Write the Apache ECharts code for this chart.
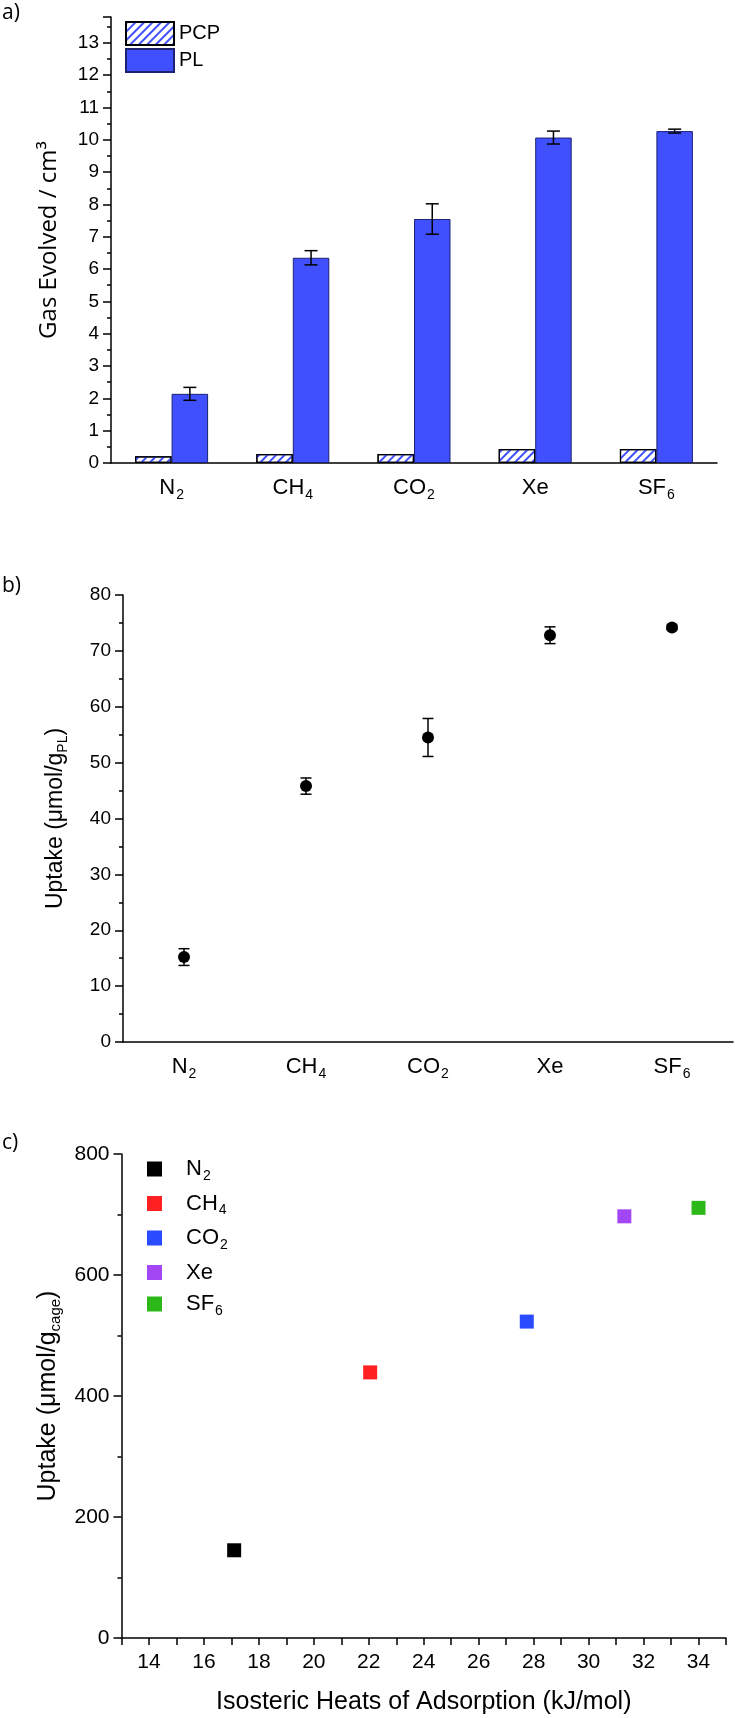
<!DOCTYPE html>
<html><head><meta charset="utf-8">
<script src="https://cdn.jsdelivr.net/npm/echarts@6/dist/echarts.min.js"></script>
<style>html,body{margin:0;padding:0;background:#fff}#c{width:735px;height:1718px}</style>
</head><body><div id="c"></div>
<script>
// ---------- data ----------
const gases = ['N2', 'CH4', 'CO2', 'Xe', 'SF6'];
const pcpVolume = [0.21, 0.28, 0.28, 0.43, 0.43];
const plVolume = [2.14, 6.35, 7.55, 10.07, 10.27];
const plVolumeErr = [0.20, 0.22, 0.47, 0.20, 0.06];
const uptakePL = [15.2, 45.8, 54.5, 72.8, 74.2];
const uptakePLErr = [1.5, 1.45, 3.4, 1.5, 0.4];
const heatOfAdsorption = [17.1, 22.05, 27.75, 31.3, 34.0];
const uptakeCage = [145, 439, 523, 697, 711];

// ---------- styles ----------
const SANS = "'Liberation Sans', Arial, sans-serif";
const HUMAN = "'Open Sans', 'Noto Sans', sans-serif";
const cageColors = ['#000000', '#ff2121', '#2a4bff', '#a347f5', '#2db81a'];
const BLUE = '#4050ff';
const axisLine = { show: true, lineStyle: { color: '#000', width: 1.5 } };
const tickStyle = { color: '#000', width: 1.5 };

function subRich(s) {
  return String(s).replace(/([A-Za-z]+)(\d*)/g, (m, a, d) => '{m|' + a + '}' + (d ? '{s|' + d + '}' : ''));
}
function richSet(size, subSize, pad) {
  return {
    m: { fontSize: size, lineHeight: size, fontFamily: SANS, color: '#000', verticalAlign: 'top' },
    s: { fontSize: subSize, lineHeight: subSize, fontFamily: SANS, color: '#000', verticalAlign: 'top', padding: [pad, 0, 0, 1] }
  };
}
function errRender(offsetPx, capHalf) {
  return function (params, api) {
    const x = api.value(0), lo = api.value(1), hi = api.value(2);
    const pLo = api.coord([x, lo]), pHi = api.coord([x, hi]);
    const cx = pLo[0] + offsetPx;
    const st = { stroke: '#000', lineWidth: 1.5 };
    return { type: 'group', children: [
      { type: 'line', shape: { x1: cx, y1: pLo[1], x2: cx, y2: pHi[1] }, style: st },
      { type: 'line', shape: { x1: cx - capHalf, y1: pLo[1], x2: cx + capHalf, y2: pLo[1] }, style: st },
      { type: 'line', shape: { x1: cx - capHalf, y1: pHi[1], x2: cx + capHalf, y2: pHi[1] }, style: st }
    ]};
  };
}
const BAR_W = 36.5;

const chart = echarts.init(document.getElementById('c'), null, { renderer: 'canvas' });
const option = {
  animation: false,
  backgroundColor: '#fff',
  grid: [
    { left: 111, right: 18, top: 17, height: 446 },
    { left: 123, right: 2, top: 595, height: 447 },
    { left: 121.5, right: 9, top: 1154, height: 484 }
  ],
  legend: [
    { data: ['PCP', 'PL'], orient: 'vertical', left: 125, top: 21, padding: 0, icon: 'rect',
      itemWidth: 48, itemHeight: 23, itemGap: 2,
      textStyle: { fontSize: 20, fontFamily: SANS, color: '#000' } },
    { data: gases, orient: 'vertical', left: 147, top: 1158, padding: 0,
      itemWidth: 15, itemHeight: 15, itemGap: 9.5,
      formatter: n => subRich(n),
      textStyle: { fontSize: 22, fontFamily: SANS, color: '#000', padding: [0, 0, 0, 19], rich: richSet(22, 14, 11) } }
  ],
  xAxis: [
    { gridIndex: 0, type: 'category', data: gases, axisLine,
      axisTick: { alignWithLabel: true, length: 9, lineStyle: tickStyle },
      axisLabel: { formatter: v => subRich(v), margin: 14, rich: richSet(22, 14, 11) } },
    { gridIndex: 1, type: 'category', data: gases, axisLine,
      axisTick: { alignWithLabel: true, length: 9, lineStyle: tickStyle },
      axisLabel: { formatter: v => subRich(v), margin: 14, rich: richSet(22, 14, 11) } },
    { gridIndex: 2, type: 'value', min: 13, max: 35, interval: 1, axisLine,
      splitLine: { show: false },
      axisTick: { length: 7, lineStyle: tickStyle },
      axisLabel: { formatter: v => (v % 2 === 0 ? String(v) : ''), margin: 14, fontSize: 21, fontFamily: SANS, color: '#000' },
      name: 'Isosteric Heats of Adsorption (kJ/mol)', nameLocation: 'middle', nameGap: 52,
      nameTextStyle: { fontSize: 25, fontFamily: SANS, color: '#000' } }
  ],
  yAxis: [
    { gridIndex: 0, type: 'value', min: 0, max: 13.8, interval: 1, axisLine,
      splitLine: { show: false },
      axisTick: { show: true, length: 8, lineStyle: tickStyle },
      minorTick: { show: true, splitNumber: 2, length: 4, lineStyle: tickStyle },
      axisLabel: { formatter: v => (Number.isInteger(v) ? String(v) : ''), margin: 12, fontSize: 19, fontFamily: SANS, color: '#000' },
      name: 'Gas Evolved / cm³', nameLocation: 'middle', nameGap: 50,
      nameTextStyle: { fontSize: 24, fontFamily: HUMAN, color: '#000' } },
    { gridIndex: 1, type: 'value', min: 0, max: 80, interval: 10, axisLine,
      splitLine: { show: false },
      axisTick: { show: true, length: 8, lineStyle: tickStyle },
      minorTick: { show: true, splitNumber: 2, length: 4, lineStyle: tickStyle },
      axisLabel: { margin: 12, fontSize: 19, fontFamily: SANS, color: '#000' },
      name: '{t|Uptake (μmol/g}{s|PL}{t|)}', nameLocation: 'middle', nameGap: 56,
      nameTextStyle: { rich: {
        t: { fontSize: 23, lineHeight: 23, fontFamily: SANS, color: '#000', verticalAlign: 'top' },
        s: { fontSize: 14, lineHeight: 14, fontFamily: SANS, color: '#000', verticalAlign: 'top', padding: [12, 0, 0, 0] } } } },
    { gridIndex: 2, type: 'value', min: 0, max: 800, interval: 200, axisLine,
      splitLine: { show: false },
      axisTick: { show: true, length: 8, lineStyle: tickStyle },
      minorTick: { show: true, splitNumber: 2, length: 4, lineStyle: tickStyle },
      axisLabel: { margin: 12, fontSize: 21, fontFamily: SANS, color: '#000' },
      name: '{t|Uptake (μmol/g}{s|cage}{t|)}', nameLocation: 'middle', nameGap: 60,
      nameTextStyle: { rich: {
        t: { fontSize: 25, lineHeight: 25, fontFamily: SANS, color: '#000', verticalAlign: 'top' },
        s: { fontSize: 15, lineHeight: 15, fontFamily: SANS, color: '#000', verticalAlign: 'top', padding: [13, 0, 0, 0] } } } }
  ],
  series: [
    { name: 'PCP', type: 'bar', xAxisIndex: 0, yAxisIndex: 0, data: pcpVolume, barWidth: BAR_W, barGap: '0%',
      itemStyle: { color: '#fff', borderColor: '#000', borderWidth: 1.2,
        decal: { symbol: 'rect', symbolSize: 1, dashArrayX: [[1, 0]], dashArrayY: [1.8, 3.6], rotation: -Math.PI / 4, color: BLUE } } },
    { name: 'PL', type: 'bar', xAxisIndex: 0, yAxisIndex: 0, data: plVolume, barWidth: BAR_W,
      itemStyle: { color: BLUE, borderColor: '#1c2270', borderWidth: 1 } },
    { type: 'custom', xAxisIndex: 0, yAxisIndex: 0, z: 5,
      renderItem: errRender(BAR_W / 2, 6.5),
      data: gases.map((g, i) => [i, plVolume[i] - plVolumeErr[i], plVolume[i] + plVolumeErr[i]]) },
    { type: 'scatter', xAxisIndex: 1, yAxisIndex: 1, symbol: 'circle', symbolSize: 12,
      itemStyle: { color: '#000', opacity: 1 }, data: gases.map((g, i) => [i, uptakePL[i]]) },
    { type: 'custom', xAxisIndex: 1, yAxisIndex: 1, z: 5,
      renderItem: errRender(0, 5.5),
      data: gases.map((g, i) => [i, uptakePL[i] - uptakePLErr[i], uptakePL[i] + uptakePLErr[i]]) }
  ].concat(gases.map((g, i) => ({
    name: g, type: 'scatter', xAxisIndex: 2, yAxisIndex: 2, symbol: 'rect', symbolSize: 14,
    itemStyle: { color: cageColors[i], opacity: 1 }, data: [[heatOfAdsorption[i], uptakeCage[i]]]
  }))),
  graphic: [
    { type: 'text', left: 2, top: 3, style: { text: 'a)', fontSize: 21, fontFamily: HUMAN, fill: '#000' } },
    { type: 'text', left: 2, top: 576, style: { text: 'b)', fontSize: 21, fontFamily: HUMAN, fill: '#000' } },
    { type: 'text', left: 2, top: 1133, style: { text: 'c)', fontSize: 21, fontFamily: HUMAN, fill: '#000' } }
  ]
};
chart.setOption(option);
</script></body></html>
